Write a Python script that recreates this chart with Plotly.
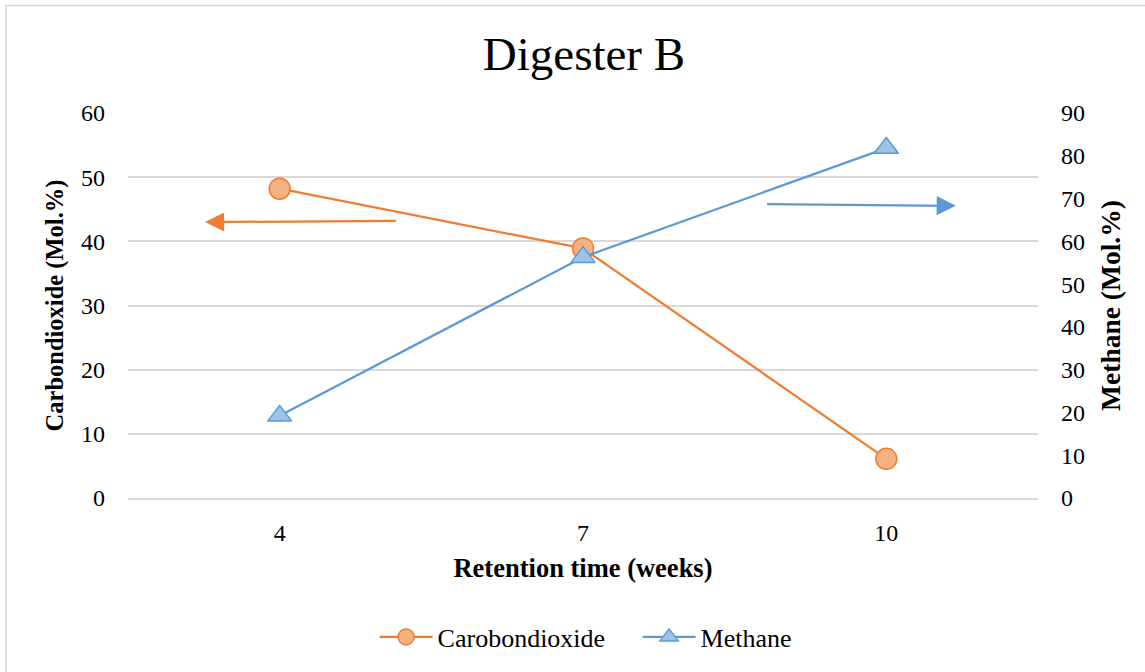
import plotly.graph_objects as go

weeks = ["4", "7", "10"]
co2 = [48.2, 38.9, 6.1]
methane = [19.2, 56.3, 81.8]
left_ticks = [0, 10, 20, 30, 40, 50, 60]
right_ticks = [0, 10, 20, 30, 40, 50, 60, 70, 80, 90]

FONT = "Liberation Serif, Times New Roman, serif"
ORANGE = "#ED7D31"
BLUE = "#5B9BD5"

fig = go.Figure()
fig.add_trace(go.Scatter(
    x=weeks, y=co2, name="Carobondioxide", mode="lines+markers",
    line=dict(color=ORANGE, width=2.25),
    marker=dict(symbol="circle", size=21, color="#F4B183",
                line=dict(color=ORANGE, width=1.5)),
    yaxis="y"))
fig.add_trace(go.Scatter(
    x=weeks, y=methane, name="Methane", mode="lines+markers",
    line=dict(color=BLUE, width=2.25),
    marker=dict(symbol="triangle-up", size=21, color="#9DC3E6",
                line=dict(color=BLUE, width=1.5)),
    yaxis="y2"))

fig.update_layout(
    width=1145, height=672,
    margin=dict(l=128, r=107, t=113, b=174),
    paper_bgcolor="white", plot_bgcolor="white",
    font=dict(family=FONT, size=24, color="#000000"),
    title=dict(text="Digester B", x=0.51, xanchor="center", y=0.92,
               yanchor="middle", font=dict(family=FONT, size=47, color="#000")),
    xaxis=dict(type="category", range=[-0.5, 2.5], showgrid=False,
               showline=True, linecolor="#D9D9D9", linewidth=1.5,
               ticks="", tickfont=dict(size=24), ticklabelstandoff=12,
               title=dict(text="<b>Retention time (weeks)</b>",
                          font=dict(size=26.5), standoff=14)),
    yaxis=dict(range=[0, 60], tickvals=left_ticks, showgrid=True,
               gridcolor="#D9D9D9", gridwidth=1.5, zeroline=False,
               showline=False, ticks="", ticklabelstandoff=22,
               tickfont=dict(size=24),
               title=dict(text="<b>Carbondioxide (Mol.%)</b>",
                          font=dict(size=24.5), standoff=10)),
    yaxis2=dict(range=[0, 90], tickvals=right_ticks, overlaying="y",
                side="right", showgrid=False, zeroline=False,
                showline=False, ticks="", ticklabelstandoff=22,
                tickfont=dict(size=24),
                title=dict(text="<b>Methane (Mol.%)</b>",
                           font=dict(size=27.5), standoff=16)),
    legend=dict(orientation="h", x=0.271, xanchor="left", y=-0.361,
                yanchor="middle", font=dict(size=26), itemwidth=53,
                entrywidth=195, entrywidthmode="pixels",
                traceorder="normal"),
    showlegend=True,
)

fig.add_annotation(x=-0.246, y=43.0, ax=0.388, ay=43.2,
                   xref="x", yref="y", axref="x", ayref="y",
                   showarrow=True, arrowhead=2, arrowsize=1.7, arrowwidth=2.25,
                   arrowcolor=ORANGE, text="")
fig.add_annotation(x=2.229, y=68.3, ax=1.602, ay=68.7,
                   xref="x", yref="y2", axref="x", ayref="y2",
                   showarrow=True, arrowhead=2, arrowsize=1.7, arrowwidth=2.25,
                   arrowcolor=BLUE, text="")

fig.add_shape(type="rect", xref="paper", yref="paper",
              x0=-0.134, x1=1.3, y0=-0.6, y1=1.279,
              line=dict(color="#D9D9D9", width=1.5), layer="below")

fig.write_html("out.html")
